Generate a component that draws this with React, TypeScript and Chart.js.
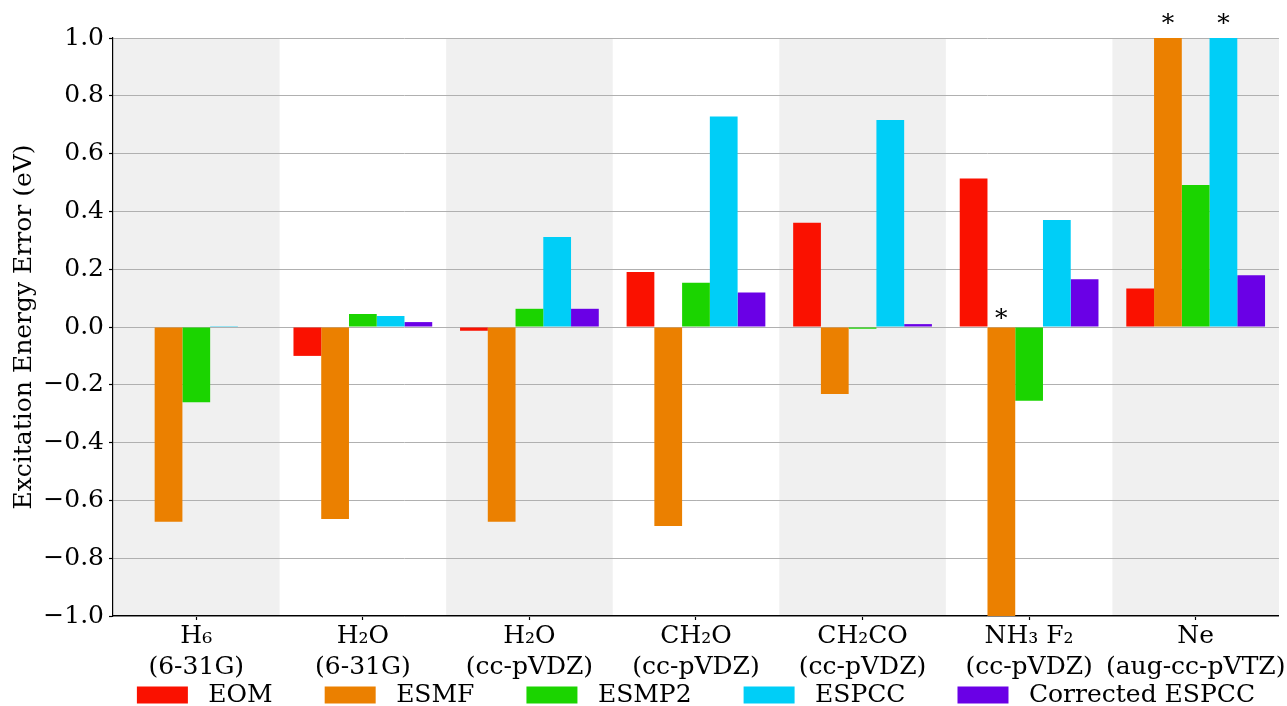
import React, { useEffect, useRef } from 'react';
import { Chart, registerables } from 'chart.js';

Chart.register(...registerables);

const FONT = 'DejaVu Serif';

const categories: string[][] = [
  ['H₆', '(6-31G)'],
  ['H₂O', '(6-31G)'],
  ['H₂O', '(cc-pVDZ)'],
  ['CH₂O', '(cc-pVDZ)'],
  ['CH₂CO', '(cc-pVDZ)'],
  ['NH₃ F₂', '(cc-pVDZ)'],
  ['Ne', '(aug-cc-pVTZ)'],
];

const seriesNames = ['EOM', 'ESMF', 'ESMP2', 'ESPCC', 'Corrected ESPCC'];

const eomValues = [0.0, -0.1, -0.013, 0.19, 0.361, 0.514, 0.133];
const esmfValues = [-0.674, -0.664, -0.674, -0.689, -0.232, -1.25, 1.35];
const esmp2Values = [-0.26, 0.045, 0.063, 0.153, -0.006, -0.255, 0.491];
const espccValues = [0.003, 0.038, 0.311, 0.728, 0.716, 0.37, 1.2];
const correctedValues = [0.0, 0.017, 0.063, 0.119, 0.01, 0.165, 0.179];

const seriesColors = ['#fa1100', '#eb8000', '#1bd400', '#00cef7', '#6a00e6'];

const yMin = -1.0;
const yMax = 1.0;
const yStep = 0.2;
const yTitle = 'Excitation Energy Error (eV)';

const LEGEND_PAD = 52;

const fmtTick = (v: number) => {
  const r = Math.round(v * 10) / 10;
  const s = Math.abs(r).toFixed(1);
  return r < 0 ? '\u2212' + s : s;
};

const bandPlugin = {
  id: 'bands',
  beforeDraw(chart: any) {
    const { ctx, chartArea, scales } = chart;
    const x = scales.x;
    const w = x.getPixelForValue(1) - x.getPixelForValue(0);
    ctx.save();
    ctx.fillStyle = '#f0f0f0';
    for (let i = 0; i < categories.length; i += 2) {
      const c = x.getPixelForValue(i);
      ctx.fillRect(c - w / 2, chartArea.top, w, chartArea.bottom - chartArea.top);
    }
    ctx.restore();
  },
};

const legendPlacePlugin = {
  id: 'legendPlace',
  afterLayout(chart: any) {
    const lg = chart.legend;
    const ca = chart.chartArea;
    if (!lg || !ca) return;
    const shiftX = (ca.left + ca.right) / 2 - (lg.left + lg.right) / 2;
    lg.left += shiftX;
    lg.right += shiftX;
    const itemCenter = ca.bottom + 79;
    lg.top = itemCenter - 12.5 - LEGEND_PAD;
    lg.bottom = chart.height;
    lg.height = lg.bottom - lg.top;
  },
};

const asteriskPlugin = {
  id: 'asterisks',
  afterDatasetsDraw(chart: any) {
    const { ctx } = chart;
    const y = chart.scales.y;
    ctx.save();
    ctx.font = `25px "${FONT}"`;
    ctx.fillStyle = '#000';
    ctx.textAlign = 'center';
    ctx.textBaseline = 'alphabetic';
    chart.data.datasets.forEach((ds: any, di: number) => {
      const meta = chart.getDatasetMeta(di);
      ds.data.forEach((v: number, i: number) => {
        let yy: number | null = null;
        if (v > y.max) yy = y.getPixelForValue(y.max) - 7.5;
        else if (v < y.min) yy = y.getPixelForValue(0) - 1.5;
        if (yy === null) return;
        const bar = meta.data[i];
        ctx.fillText('*', bar.x, yy);
      });
    });
    ctx.restore();
  },
};

export default function App() {
  const ref = useRef<HTMLCanvasElement | null>(null);

  useEffect(() => {
    document.body.style.margin = '0';
    document.body.style.overflow = 'hidden';
    if (!ref.current) return;
    const allValues = [eomValues, esmfValues, esmp2Values, espccValues, correctedValues];
    const chart = new Chart(ref.current, {
      type: 'bar',
      data: {
        labels: categories,
        datasets: seriesNames.map((name, k) => ({
          label: name,
          data: allValues[k],
          backgroundColor: seriesColors[k],
          borderWidth: 0,
          categoryPercentage: 0.833,
          barPercentage: 1.0,
          clip: 0,
        })),
      },
      options: {
        animation: false,
        responsive: false,
        devicePixelRatio: 1,
        layout: { padding: { left: 0, top: 38, right: 8, bottom: 0 } },
        plugins: {
          tooltip: { enabled: false },
          legend: {
            position: 'bottom',
            maxHeight: 0.01,
            labels: {
              font: { family: FONT, size: 25 },
              color: '#000',
              boxWidth: 51,
              boxHeight: 17,
              padding: LEGEND_PAD,
              generateLabels: (c: any) =>
                (Chart.defaults.plugins.legend.labels.generateLabels as any)(c).map((l: any) => ({
                  ...l,
                  text: ' ' + l.text,
                  lineWidth: 0,
                })),
            },
          },
        },
        scales: {
          x: {
            grid: {
              display: true,
              drawOnChartArea: false,
              offset: false,
              tickLength: 4,
              tickColor: '#000',
              tickWidth: 1.2,
            },
            border: { color: '#000', width: 1.2 },
            ticks: {
              font: { family: FONT, size: 25, lineHeight: 1.25 },
              color: '#000',
              padding: 1,
              maxRotation: 0,
              autoSkip: false,
            },
            afterFit: (s: any) => {
              s.height = 89.99;
            },
          },
          y: {
            min: yMin,
            max: yMax,
            ticks: {
              stepSize: yStep,
              callback: (v: any) => fmtTick(Number(v)),
              font: { family: FONT, size: 25 },
              color: '#000',
              padding: 5,
            },
            grid: {
              color: '#b0b0b0',
              lineWidth: 1,
              tickColor: '#000',
              tickLength: 4,
              tickWidth: 1.2,
            },
            border: { color: '#000', width: 1.2 },
            title: {
              display: true,
              text: yTitle,
              font: { family: FONT, size: 25 },
              color: '#000',
              padding: { top: 9, bottom: 0 },
            },
            afterFit: (s: any) => {
              s.width = 113;
            },
          },
        },
      },
      plugins: [bandPlugin, legendPlacePlugin, asteriskPlugin],
    } as any);
    return () => chart.destroy();
  }, []);

  return <canvas ref={ref} width={1287} height={706} style={{ display: 'block' }} />;
}
